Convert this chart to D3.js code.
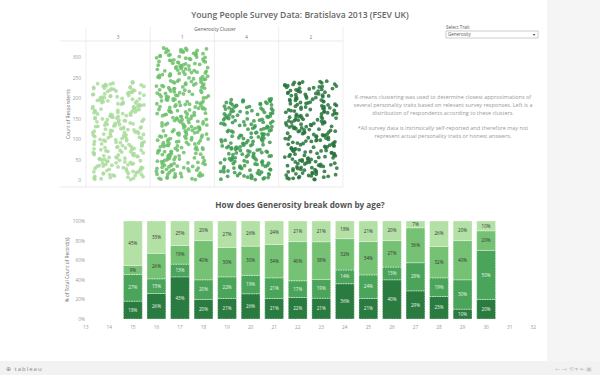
<!DOCTYPE html>
<html lang="en">
<head>
<meta charset="UTF-8">
<title>Young People Survey Data: Bratislava 2013</title>
<script src="https://d3js.org/d3.v7.min.js"></script>
<style>
html,body{margin:0;padding:0;background:#fff}
body{width:600px;height:375px;overflow:hidden;font-family:"Open Sans",Lato,sans-serif}
svg{display:block}
</style>
</head>
<body>
<svg id="chart" width="600" height="375"></svg>
<script>
// cluster panels (left to right) and how many respondents fall in each
const clusters = ['3', '1', '4', '2'];
const clusterCounts = [239, 322, 198, 241];
const countTicks = [0, 50, 100, 150, 200, 250, 300];

// age breakdown: % share of each cluster, stacked bottom (2) to top (3)
const ages = d3.range(13, 33);
const barAges = [15, 16, 17, 18, 19, 20, 21, 22, 23, 24, 25, 26, 27, 28, 29, 30];
const cluster2Pct = [18, 26, 43, 20, 21, 26, 21, 22, 21, 36, 21, 40, 29, 23, 10, 20];
const cluster4Pct = [27, 15, 13, 20, 22, 19, 21, 17, 19, 14, 24, 13, 29, 19, 30, 50];
const cluster1Pct = [9, 26, 19, 40, 30, 30, 34, 40, 38, 32, 34, 27, 36, 32, 40, 20];
const cluster3Pct = [45, 33, 25, 20, 27, 26, 24, 21, 21, 18, 21, 20, 7, 26, 20, 10];
const pctTicks = [0, 0.2, 0.4, 0.6, 0.8, 1];

const dotColor = { '3': '#a9dc9b', '1': '#6cbf6a', '4': '#3e9a50', '2': '#26733a' };
const segColor = { c2: '#2a7b3f', c4: '#4aa55a', c1: '#76c274', c3: '#b3e0a5' };

const svg = d3.select('#chart');
const grey = '#999';

// frame: right strip + bottom toolbar
svg.append('rect').attr('x', 547).attr('y', 0).attr('width', 53).attr('height', 375).attr('fill', '#f5f5f5');
svg.append('rect').attr('x', 0).attr('y', 361).attr('width', 600).attr('height', 14).attr('fill', '#f2f2f2');
svg.append('text').attr('x', 6).attr('y', 371).attr('font-size', 6).attr('fill', '#888')
  .attr('letter-spacing', '1px').text('⊕ tableau');
svg.append('text').attr('x', 592).attr('y', 371).attr('text-anchor', 'end').attr('font-size', 5.5)
  .attr('fill', '#c4c4c4').text('←   →   ⟲ ▾   ⇤   ▣');

// main title
svg.append('text').attr('x', 300).attr('y', 18).attr('text-anchor', 'middle')
  .attr('font-size', 8.6).attr('font-weight', 600).attr('fill', '#666')
  .text('Young People Survey Data: Bratislava 2013 (FSEV UK)');

// trait selector
svg.append('text').attr('x', 446).attr('y', 29).attr('font-size', 4.6).attr('fill', '#555').text('Select Trait');
svg.append('rect').attr('x', 446).attr('y', 31).attr('width', 92).attr('height', 7)
  .attr('fill', '#fff').attr('stroke', '#aaa').attr('stroke-width', 0.6);
svg.append('text').attr('x', 448).attr('y', 36.3).attr('font-size', 4.5).attr('fill', '#555').text('Generosity');
svg.append('text').attr('x', 535).attr('y', 36.3).attr('text-anchor', 'end').attr('font-size', 4).attr('fill', '#333').text('▾');

// ---------- top: jittered dot plot ----------
const px = d3.scaleBand().domain(clusters).range([86, 343]);
const py = d3.scaleLinear().domain([0, 300]).range([180, 57]);
const plotTop = 41, plotBottom = 187;

const dotPanel = svg.append('g');
dotPanel.append('text').attr('x', 215).attr('y', 31).attr('text-anchor', 'middle')
  .attr('font-size', 4.8).attr('fill', '#555').text('Generosity Cluster');
dotPanel.append('line').attr('x1', 60).attr('x2', 343).attr('y1', plotTop).attr('y2', plotTop).attr('stroke', '#ddd').attr('stroke-width', 0.6);
dotPanel.append('line').attr('x1', 60).attr('x2', 343).attr('y1', plotBottom).attr('y2', plotBottom).attr('stroke', '#ddd').attr('stroke-width', 0.6);
dotPanel.selectAll('line.sep').data(clusters.concat(['end'])).join('line')
  .attr('class', 'sep')
  .attr('x1', d => d === 'end' ? 343 : px(d)).attr('x2', d => d === 'end' ? 343 : px(d))
  .attr('y1', 27).attr('y2', plotBottom).attr('stroke', '#e2e2e2').attr('stroke-width', 0.6);
dotPanel.selectAll('text.col').data(clusters).join('text')
  .attr('class', 'col').attr('x', d => px(d) + px.bandwidth() / 2).attr('y', 38.5)
  .attr('text-anchor', 'middle').attr('font-size', 4.6).attr('fill', '#777').text(d => d);

const yAxisTop = dotPanel.append('g').attr('transform', 'translate(86,0)')
  .call(d3.axisLeft(py).tickValues(countTicks).tickSize(0).tickPadding(5));
yAxisTop.select('.domain').remove();
yAxisTop.selectAll('text').attr('font-size', 4.8).attr('fill', grey).attr('font-family', 'Open Sans, sans-serif');
dotPanel.append('text').attr('transform', 'translate(70,114) rotate(-90)').attr('text-anchor', 'middle')
  .attr('font-size', 4.8).attr('fill', '#666').text('Count of Respondents');

// one dot per respondent: y = respondent index, x = seeded jitter inside the panel
const jitter = d3.randomLcg(0.4242);
const dots = [];
clusters.forEach((c, ci) => {
  for (let i = 1; i <= clusterCounts[ci]; i++) dots.push({ cluster: c, idx: i, j: jitter() });
});
dotPanel.selectAll('circle').data(dots).join('circle')
  .attr('cx', d => px(d.cluster) + 6 + d.j * (px.bandwidth() - 12))
  .attr('cy', d => py(d.idx))
  .attr('r', 1.9)
  .attr('fill', d => dotColor[d.cluster])
  .attr('fill-opacity', 0.85);

// description
const para = [
  ['K-means clustering was used to determine closest approximations of', 99],
  ['several personality traits based on relevant survey responses. Left is a', 107],
  ['distribution of respondents according to these clusters.', 115],
  ['*All survey data is intrinsically self-reported and therefore may not', 130],
  ['represent actual personality traits or honest answers.', 138]
];
svg.selectAll('text.para').data(para).join('text').attr('class', 'para')
  .attr('x', 443).attr('y', d => d[1]).attr('text-anchor', 'middle')
  .attr('font-size', 5.5).attr('fill', '#999').text(d => d[0]);

// ---------- bottom: 100% stacked bars by age ----------
svg.append('text').attr('x', 300).attr('y', 208).attr('text-anchor', 'middle')
  .attr('font-size', 8.2).attr('font-weight', 700).attr('fill', '#555')
  .text('How does Generosity break down by age?');

const bx = d3.scaleBand().domain(ages).range([74, 545]).paddingInner(0.2).paddingOuter(0.1);
const by = d3.scaleLinear().domain([0, 1]).range([319, 221]);

const rows = barAges.map((a, i) => ({
  age: a, c2: cluster2Pct[i], c4: cluster4Pct[i], c1: cluster1Pct[i], c3: cluster3Pct[i]
}));
const keys = ['c2', 'c4', 'c1', 'c3'];
const stack = d3.stack().keys(keys).offset(d3.stackOffsetExpand)(rows);

const barPanel = svg.append('g');
const yAxisB = barPanel.append('g').attr('transform', 'translate(88,0)')
  .call(d3.axisLeft(by).tickValues(pctTicks).tickFormat(d3.format('.0%')).tickSize(0).tickPadding(3));
yAxisB.select('.domain').remove();
yAxisB.selectAll('text').attr('font-size', 4.8).attr('fill', grey).attr('font-family', 'Open Sans, sans-serif');
barPanel.append('text').attr('transform', 'translate(69,270) rotate(-90)').attr('text-anchor', 'middle')
  .attr('font-size', 4.8).attr('fill', '#666').text('% of Total Count of Record(s)');

const xAxisB = barPanel.append('g').attr('transform', 'translate(0,323)')
  .call(d3.axisBottom(bx).tickSize(0).tickPadding(3));
xAxisB.select('.domain').remove();
xAxisB.selectAll('text').attr('font-size', 4.8).attr('fill', grey).attr('font-family', 'Open Sans, sans-serif');

const layers = barPanel.selectAll('g.layer').data(stack).join('g').attr('class', 'layer')
  .attr('fill', d => segColor[d.key]);
layers.selectAll('rect').data(d => d.map(p => Object.assign({ key: d.key }, p))).join('rect')
  .attr('x', d => bx(d.data.age))
  .attr('width', bx.bandwidth())
  .attr('y', d => by(d[1]))
  .attr('height', d => by(d[0]) - by(d[1]))
  .attr('stroke', '#fff').attr('stroke-width', 0.5).attr('stroke-dasharray', '1.5,1');
layers.selectAll('text').data(d => d.map(p => Object.assign({ key: d.key }, p))).join('text')
  .attr('x', d => bx(d.data.age) + bx.bandwidth() / 2)
  .attr('y', d => (by(d[0]) + by(d[1])) / 2 + 1.6)
  .attr('text-anchor', 'middle').attr('font-size', 4.6)
  .attr('fill', d => (d.key === 'c2' || d.key === 'c4') ? '#eef6ee' : '#333')
  .text(d => d.data[d.key] + '%');
</script>
</body>
</html>
